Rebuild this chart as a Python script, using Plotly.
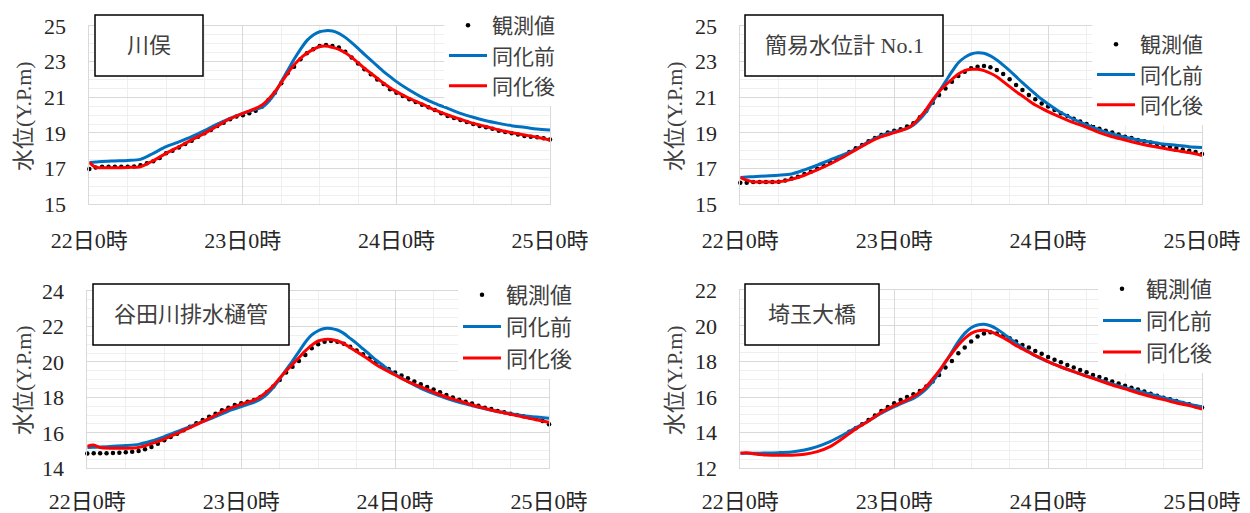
import plotly.graph_objects as go

# ---------------- data ----------------
obs_hours = list(range(73))
line_hours = [0, 1, 2, 4, 6, 8, 10, 12, 14, 16, 18, 20, 22, 24, 26, 27, 28, 29, 30,
              31, 32, 33, 34, 35, 36, 37, 38, 39, 40, 41, 42, 43, 44, 45, 46, 47, 48,
              50, 52, 54, 56, 58, 60, 62, 64, 66, 68, 70, 72]

tick_hours = [0, 24, 48, 72]
tick_labels = ["22日0時", "23日0時", "24日0時", "25日0時"]
series_names = ["観測値", "同化前", "同化後"]
station_names = ["川俣", "簡易水位計 No.1", "谷田川排水樋管", "埼玉大橋"]
y_title = "水位(Y.P.m)"

# 川俣
obs1 = [16.98, 17.07, 17.1, 17.1, 17.1, 17.1, 17.1, 17.12, 17.19, 17.3,
        17.41, 17.6, 17.86, 18.0, 18.18, 18.38, 18.57, 18.79, 18.98, 19.17,
        19.39, 19.58, 19.77, 19.92, 19.99, 20.1, 20.25, 20.48, 20.85, 21.26,
        21.79, 22.35, 22.72, 23.13, 23.47, 23.69, 23.88, 23.93, 23.88, 23.79,
        23.56, 23.24, 22.9, 22.57, 22.3, 22.0, 21.75, 21.45, 21.26, 21.07,
        20.89, 20.74, 20.59, 20.44, 20.29, 20.1, 19.95, 19.84, 19.73, 19.62,
        19.5, 19.39, 19.32, 19.24, 19.13, 19.06, 18.98, 18.91, 18.83, 18.79,
        18.76, 18.7, 18.64]
before1 = [17.35, 17.37, 17.4, 17.43, 17.46, 17.52, 17.86, 18.23, 18.5, 18.79, 19.13, 19.5, 19.82,
           20.1, 20.33, 20.44, 20.76, 21.22, 21.88, 22.5, 23.13, 23.69, 24.18, 24.5, 24.68,
           24.74, 24.72, 24.59, 24.36, 24.07, 23.75, 23.41, 23.09, 22.76, 22.44, 22.16, 21.88,
           21.41, 21.0, 20.66, 20.38, 20.1, 19.88, 19.69, 19.54, 19.41, 19.32, 19.22, 19.17]
after1 = [17.35, 17.07, 17.05, 17.05, 17.07, 17.11, 17.45, 17.86, 18.23, 18.61, 18.98, 19.39, 19.8,
          20.1, 20.38, 20.57, 20.89, 21.31, 21.82, 22.35, 22.82, 23.19, 23.47, 23.69, 23.85,
          23.88, 23.8, 23.69, 23.5, 23.24, 22.94, 22.63, 22.35, 22.07, 21.79, 21.54, 21.32,
          20.94, 20.63, 20.29, 20.01, 19.77, 19.54, 19.36, 19.17, 19.02, 18.89, 18.76, 18.61]

# 簡易水位計 No.1
obs2 = [16.21, 16.21, 16.25, 16.25, 16.25, 16.25, 16.27, 16.33, 16.44, 16.55,
        16.7, 16.83, 17.0, 17.15, 17.34, 17.52, 17.71, 17.93, 18.14, 18.33,
        18.53, 18.72, 18.89, 19.02, 19.13, 19.21, 19.36, 19.54, 19.88, 20.25,
        20.7, 21.13, 21.5, 21.88, 22.2, 22.44, 22.63, 22.72, 22.76, 22.68,
        22.53, 22.31, 22.01, 21.69, 21.41, 21.13, 20.89, 20.66, 20.48, 20.29,
        20.1, 19.95, 19.8, 19.65, 19.5, 19.39, 19.24, 19.13, 19.02, 18.91,
        18.79, 18.72, 18.61, 18.53, 18.46, 18.38, 18.31, 18.23, 18.16, 18.08,
        18.01, 17.93, 17.82]
before2 = [16.51, 16.53, 16.55, 16.59, 16.63, 16.7, 16.93, 17.19, 17.49, 17.77, 18.08, 18.51, 18.85,
           19.07, 19.26, 19.45, 19.77, 20.2, 20.76, 21.32, 21.88, 22.44, 22.94, 23.24, 23.43,
           23.5, 23.47, 23.32, 23.09, 22.81, 22.5, 22.16, 21.82, 21.5, 21.19, 20.89, 20.63,
           20.15, 19.77, 19.45, 19.17, 18.94, 18.76, 18.61, 18.5, 18.38, 18.31, 18.23, 18.18]
after2 = [16.51, 16.36, 16.27, 16.25, 16.27, 16.4, 16.63, 16.93, 17.26, 17.64, 18.05, 18.46, 18.79,
          19.02, 19.26, 19.5, 19.88, 20.33, 20.85, 21.32, 21.69, 22.01, 22.31, 22.5, 22.57,
          22.57, 22.5, 22.35, 22.16, 21.88, 21.6, 21.32, 21.07, 20.81, 20.57, 20.38, 20.2,
          19.88, 19.58, 19.32, 19.02, 18.79, 18.61, 18.42, 18.27, 18.14, 18.01, 17.9, 17.74]

# 谷田川排水樋管
obs3 = [14.83, 14.85, 14.85, 14.85, 14.86, 14.87, 14.9, 14.94, 14.98, 15.07,
        15.2, 15.39, 15.58, 15.77, 15.95, 16.14, 16.35, 16.54, 16.73, 16.91,
        17.08, 17.27, 17.42, 17.57, 17.67, 17.76, 17.85, 18.02, 18.29, 18.61,
        18.98, 19.41, 19.73, 20.05, 20.39, 20.77, 20.99, 21.14, 21.18, 21.14,
        21.03, 20.86, 20.65, 20.43, 20.2, 19.98, 19.79, 19.6, 19.41, 19.23,
        19.08, 18.89, 18.74, 18.59, 18.44, 18.29, 18.14, 18.0, 17.87, 17.76,
        17.65, 17.53, 17.42, 17.35, 17.23, 17.16, 17.08, 17.01, 16.93, 16.86,
        16.78, 16.67, 16.48]
before3 = [15.18, 15.19, 15.2, 15.24, 15.28, 15.35, 15.54, 15.79, 16.07, 16.35, 16.63, 16.91, 17.23,
           17.48, 17.72, 17.89, 18.17, 18.55, 19.04, 19.55, 20.05, 20.58, 21.11, 21.52, 21.76,
           21.89, 21.89, 21.8, 21.61, 21.33, 21.05, 20.73, 20.43, 20.11, 19.83, 19.55, 19.3,
           18.89, 18.51, 18.21, 17.95, 17.72, 17.53, 17.35, 17.2, 17.08, 16.97, 16.89, 16.82]
after3 = [15.24, 15.32, 15.17, 15.13, 15.13, 15.17, 15.39, 15.65, 15.97, 16.29, 16.63, 17.0, 17.35,
          17.61, 17.85, 18.04, 18.32, 18.66, 19.08, 19.49, 19.86, 20.24, 20.62, 20.95, 21.18,
          21.27, 21.27, 21.18, 21.03, 20.8, 20.58, 20.35, 20.11, 19.86, 19.64, 19.45, 19.26,
          18.89, 18.59, 18.29, 18.02, 17.8, 17.57, 17.38, 17.2, 17.05, 16.89, 16.74, 16.59]

# 埼玉大橋 (observations missing before 22日17時)
obs4 = [None] * 17 + [
        14.06, 14.25, 14.47, 14.72, 14.96, 15.22, 15.45, 15.65, 15.84, 16.01,
        16.16, 16.34, 16.59, 16.87, 17.24, 17.66, 18.03, 18.46, 18.78, 19.12,
        19.4, 19.57, 19.64, 19.58, 19.45, 19.3, 19.12, 18.93, 18.78, 18.59,
        18.44, 18.25, 18.1, 17.96, 17.81, 17.66, 17.52, 17.39, 17.24, 17.13,
        17.0, 16.87, 16.76, 16.64, 16.53, 16.42, 16.31, 16.19, 16.08, 15.97,
        15.88, 15.78, 15.67, 15.6, 15.48, 15.41]
before4 = [12.84, 12.84, 12.84, 12.86, 12.88, 12.92, 13.03, 13.22, 13.5, 13.87, 14.28, 14.66, 15.09,
           15.46, 15.78, 15.93, 16.16, 16.46, 16.87, 17.39, 17.96, 18.55, 19.12, 19.58, 19.9,
           20.05, 20.09, 20.01, 19.83, 19.58, 19.3, 19.02, 18.78, 18.55, 18.33, 18.14, 17.99,
           17.69, 17.43, 17.19, 16.96, 16.74, 16.53, 16.34, 16.16, 15.97, 15.78, 15.6, 15.45]
after4 = [12.84, 12.88, 12.82, 12.75, 12.73, 12.74, 12.79, 12.94, 13.22, 13.69, 14.21, 14.66, 15.15,
          15.52, 15.84, 16.03, 16.27, 16.59, 17.02, 17.47, 17.99, 18.46, 18.93, 19.3, 19.58,
          19.72, 19.75, 19.68, 19.53, 19.34, 19.12, 18.89, 18.7, 18.52, 18.33, 18.18, 17.99,
          17.69, 17.43, 17.17, 16.93, 16.68, 16.46, 16.23, 16.03, 15.86, 15.67, 15.52, 15.33]

y_ranges = [(15, 25), (15, 25), (14, 24), (12, 22)]
obs_all = [obs1, obs2, obs3, obs4]
before_all = [before1, before2, before3, before4]
after_all = [after1, after2, after3, after4]

# ---------------- layout helpers (pixels) ----------------
W, H = 1250, 513
def fx(px):
    return px / W
def fy(py):
    return 1 - py / H

plot_boxes = [(89.3, 26, 550, 204.3), (740.3, 26, 1202, 204.3),
              (87.3, 291, 549, 468.3), (740.3, 290.3, 1202, 468.3)]
name_boxes = [(95, 15, 203, 76), (745, 15, 943, 76), (93, 284, 289, 345), (745, 284, 879, 345)]
legend_pos = [(444, 5), (1092, 24), (458, 274), (1098, 268)]
legend_font_size = [21, 21, 22, 22]
xlabel_standoff = [16, 16, 13, 13]
ytitle_pos = [(23, 116), (674, 116), (23, 380), (674, 380)]

BLUE = "#0070C0"
RED = "#FF0000"
TICK_FONT = dict(family="Liberation Serif, Noto Sans CJK JP", size=22, color="#262626")
CJK_FONT = dict(family="Liberation Serif, Noto Sans CJK JP", size=22, color="#404040")

fig = go.Figure()
layout = dict(width=W, height=H, margin=dict(l=0, r=0, t=0, b=0, autoexpand=False),
              paper_bgcolor="white", plot_bgcolor="white", showlegend=True)
shapes, annotations = [], []

for i in range(4):
    k = "" if i == 0 else str(i + 1)
    xa, ya = "x" + k, "y" + k
    leg = "legend" + k
    fig.add_trace(go.Scatter(x=obs_hours, y=obs_all[i], mode="markers", name=series_names[0],
                             marker=dict(color="black", size=4.5), xaxis=xa, yaxis=ya,
                             legend=leg, cliponaxis=False))
    fig.add_trace(go.Scatter(x=line_hours, y=before_all[i], mode="lines", name=series_names[1],
                             line=dict(color=BLUE, width=3, shape="spline", smoothing=0.8),
                             xaxis=xa, yaxis=ya, legend=leg))
    fig.add_trace(go.Scatter(x=line_hours, y=after_all[i], mode="lines", name=series_names[2],
                             line=dict(color=RED, width=3, shape="spline", smoothing=0.8),
                             xaxis=xa, yaxis=ya, legend=leg))

    x0, y0, x1, y1 = plot_boxes[i]
    lo, hi = y_ranges[i]
    layout["xaxis" + k] = dict(domain=[fx(x0), fx(x1)], anchor=ya, range=[0, 72],
                               tickvals=tick_hours, ticktext=tick_labels, tickfont=TICK_FONT,
                               ticks="", ticklabelstandoff=xlabel_standoff[i], automargin=False,
                               showgrid=True, gridcolor="#d9d9d9", gridwidth=1,
                               minor=dict(dtick=6, tick0=0, showgrid=True, gridcolor="#efefef", gridwidth=1),
                               showline=True, linecolor="#d9d9d9", linewidth=1, mirror=True,
                               zeroline=False, fixedrange=True)
    layout["yaxis" + k] = dict(domain=[fy(y1), fy(y0)], anchor=xa, range=[lo, hi],
                               tick0=lo, dtick=2, tickfont=TICK_FONT, ticks="",
                               ticklabelstandoff=18, automargin=False,
                               showgrid=True, gridcolor="#d9d9d9", gridwidth=1,
                               minor=dict(dtick=0.5, tick0=lo, showgrid=True, gridcolor="#efefef", gridwidth=1),
                               showline=True, linecolor="#d9d9d9", linewidth=1, mirror=True,
                               zeroline=False, fixedrange=True)
    lx, ly = legend_pos[i]
    layout[leg] = dict(x=fx(lx), y=fy(ly), xanchor="left", yanchor="top",
                       bgcolor="white", itemwidth=38, tracegroupgap=0, borderwidth=0,
                       font=dict(family="Noto Sans CJK JP", size=legend_font_size[i], color="#404040"))

    bx0, by0, bx1, by1 = name_boxes[i]
    shapes.append(dict(type="rect", xref="paper", yref="paper",
                       x0=fx(bx0), x1=fx(bx1), y0=fy(by1), y1=fy(by0),
                       line=dict(color="black", width=1.5), fillcolor="white", layer="above"))
    annotations.append(dict(xref="paper", yref="paper", x=fx((bx0 + bx1) / 2), y=fy((by0 + by1) / 2),
                            text=station_names[i], showarrow=False, font=CJK_FONT,
                            xanchor="center", yanchor="middle"))
    tx, ty = ytitle_pos[i]
    annotations.append(dict(xref="paper", yref="paper", x=fx(tx), y=fy(ty), text=y_title,
                            textangle=-90, showarrow=False, font=CJK_FONT,
                            xanchor="center", yanchor="middle"))

layout["shapes"] = shapes
layout["annotations"] = annotations
fig.update_layout(**layout)
fig.write_html("out.html", config={"displayModeBar": False},
               post_script="document.body.style.margin='0px';")
